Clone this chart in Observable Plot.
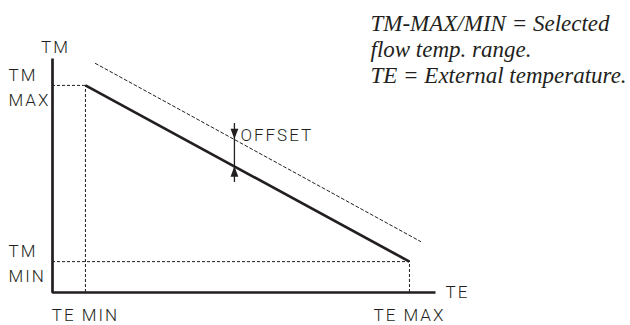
<!DOCTYPE html>
<html><head><meta charset="utf-8">
<script src="https://cdn.jsdelivr.net/npm/d3@7"></script>
<script src="https://cdn.jsdelivr.net/npm/@observablehq/plot@0.6"></script>
<style>
html,body{margin:0;padding:0;background:#fff;}
#chart svg{display:block;letter-spacing:2px}
#chart svg g[font-style="italic"] text{letter-spacing:normal}
</style></head><body><div id="chart"></div>
<script>
// Abstract diagram units: TE (external temperature) along x, TM (flow temperature) along y
const axisTE = [0, 100];
const axisTM = [0, 100];
const teLimits = [8.6, 93.2];        // TE MIN, TE MAX
const tmLimits = [88.5, 13.2];       // TM MAX, TM MIN
const curveTE = [8.6, 93.2];
const curveTM = [88.5, 13.2];
const offsetCurveTE = [11.2, 96.1];
const offsetCurveTM = [97.9, 21.8];
const offsetMarkerTE = [47.5];
const offsetMarkerTM = [47.0, 72.2]; // stem extent
const offsetTipsTM = [65.6, 53.9];   // tip on offset curve, tip on curve
const yLabels = ["TM\nMAX", "TM\nMIN"];
const xLabels = ["TE MIN", "TE MAX"];
const axisTitles = ["TM", "TE"];
const offsetLabel = ["OFFSET"];
const noteLines = ["TM-MAX/MIN = Selected", "flow temp. range.", "TE = External temperature."];

const ink = "#231f20";
const labelFont = {fontFamily: "Roboto, 'DejaVu Sans', sans-serif", fontSize: 17, fontWeight: 300, fill: ink};

const arrowDown = {draw(ctx, size) { const s = Math.sqrt(size); ctx.moveTo(0, 0); ctx.lineTo(-0.38 * s, -s); ctx.lineTo(0.38 * s, -s); ctx.closePath(); }};
const arrowUp = {draw(ctx, size) { const s = Math.sqrt(size); ctx.moveTo(0, 0); ctx.lineTo(-0.38 * s, s); ctx.lineTo(0.38 * s, s); ctx.closePath(); }};

const pts = (xs, ys) => xs.map((x, i) => ({x, y: ys[i]}));
const dash = {stroke: ink, strokeWidth: 1, strokeDasharray: "3,2"};

const chart = Plot.plot({
  width: 630,
  height: 325,
  margin: 0,
  x: {domain: axisTE, range: [52, 435], axis: null},
  y: {domain: axisTM, range: [292, 58], axis: null},
  style: {background: "white", color: ink, overflow: "visible"},
  marks: [
    // guide lines
    Plot.ruleY([tmLimits[0]], {x1: axisTE[0], x2: teLimits[0], ...dash}),
    Plot.ruleX([teLimits[0]], {y1: axisTM[0], y2: tmLimits[0], ...dash}),
    Plot.ruleY([tmLimits[1]], {x1: axisTE[0], x2: teLimits[1], ...dash}),
    Plot.ruleX([teLimits[1]], {y1: axisTM[0], y2: tmLimits[1], ...dash}),
    // offset curve
    Plot.line(pts(offsetCurveTE, offsetCurveTM), {x: "x", y: "y", stroke: ink, strokeWidth: 1, strokeDasharray: "3,2.5"}),
    // axes
    Plot.line([{x: axisTE[0], y: axisTM[1]}, {x: axisTE[0], y: axisTM[0]}, {x: axisTE[1], y: axisTM[0]}],
      {x: "x", y: "y", stroke: ink, strokeWidth: 2.7, strokeLinejoin: "miter", strokeLinecap: "butt"}),
    // heating curve
    Plot.line(pts(curveTE, curveTM), {x: "x", y: "y", stroke: ink, strokeWidth: 2.7, strokeLinecap: "butt"}),
    // offset marker
    Plot.ruleX(offsetMarkerTE, {y1: offsetMarkerTM[0], y2: offsetMarkerTM[1], stroke: ink, strokeWidth: 1.3}),
    Plot.dot([{x: offsetMarkerTE[0], y: offsetTipsTM[0]}], {x: "x", y: "y", symbol: arrowDown, r: 5.8, fill: ink, stroke: "none"}),
    Plot.dot([{x: offsetMarkerTE[0], y: offsetTipsTM[1]}], {x: "x", y: "y", symbol: arrowUp, r: 5.8, fill: ink, stroke: "none"}),
    // labels
    Plot.text(yLabels, {x: axisTE[0], y: tmLimits, text: Plot.identity, textAnchor: "start", dx: -44, lineHeight: 1.47, ...labelFont}),
    Plot.text(xLabels, {x: teLimits, y: axisTM[0], text: Plot.identity, textAnchor: "middle", dy: 23.5, ...labelFont}),
    Plot.text([axisTitles[0]], {x: axisTE[0], y: axisTM[1], text: Plot.identity, textAnchor: "middle", dx: 3, dy: -11, ...labelFont}),
    Plot.text([axisTitles[1]], {x: axisTE[1], y: axisTM[0], text: Plot.identity, textAnchor: "start", dx: 10, ...labelFont}),
    Plot.text(offsetLabel, {x: offsetMarkerTE[0], y: offsetTipsTM[0], text: Plot.identity, textAnchor: "start", dx: 6, dy: -3.5, ...labelFont}),
    // note
    Plot.text([noteLines.join("\n")], {frameAnchor: "top-left", text: Plot.identity, textAnchor: "start", lineAnchor: "top",
      dx: 370, dy: 12, lineHeight: 1.13, fontFamily: "'Liberation Serif', serif", fontStyle: "italic", fontSize: 23, fill: ink})
  ]
});
document.getElementById("chart").append(chart);
</script></body></html>
